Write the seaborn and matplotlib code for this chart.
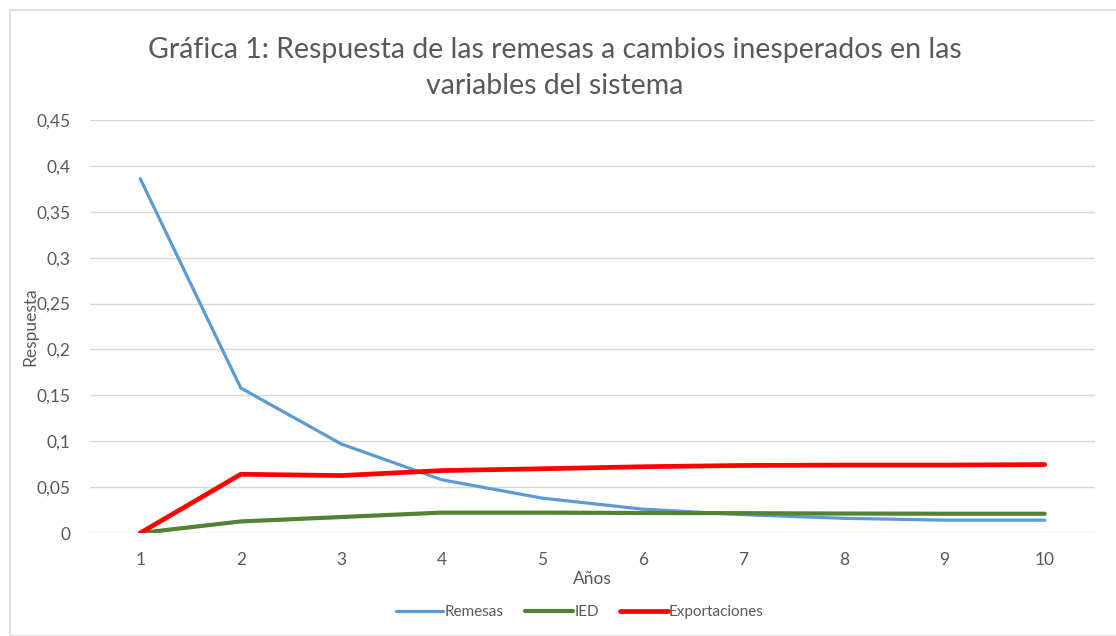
import numpy
import pandas
import seaborn as sns
import matplotlib
matplotlib.use("Agg")
import matplotlib.pyplot as plt
from matplotlib.patches import Rectangle

years = [1, 2, 3, 4, 5, 6, 7, 8, 9, 10]
remesas = [0.386, 0.158, 0.097, 0.058, 0.038, 0.026, 0.020, 0.016, 0.014, 0.014]
ied = [0.0, 0.0126, 0.0174, 0.0222, 0.0222, 0.0218, 0.0216, 0.0212, 0.021, 0.021]
exportaciones = [0.0, 0.064, 0.0626, 0.068, 0.070, 0.0722, 0.0736, 0.074, 0.074, 0.0746]
series_names = ["Remesas", "IED", "Exportaciones"]
y_ticks = [0, 0.05, 0.1, 0.15, 0.2, 0.25, 0.3, 0.35, 0.4, 0.45]

df = pandas.DataFrame({
    "Años": years * 3,
    "Respuesta": remesas + ied + exportaciones,
    "serie": numpy.repeat(series_names, len(years)),
})

sns.set_theme(style="white")
plt.rcParams["font.family"] = ["Lato", "DejaVu Sans"]
gray = "#595959"

fig = plt.figure(figsize=(11.16, 6.36), dpi=100)
ax = fig.add_axes([90 / 1116, 1 - 533 / 636, 1005 / 1116, 413 / 636])

palette = {"Remesas": "#5B9BD5", "IED": "#548235", "Exportaciones": "#FF0000"}
sns.lineplot(data=df, x="Años", y="Respuesta", hue="serie", palette=palette,
             ax=ax, legend=False, zorder=3)
widths = {"Remesas": 2.3, "IED": 3.0, "Exportaciones": 3.4}
for line, name in zip(ax.lines, series_names):
    line.set_linewidth(widths[name])
    line.set_solid_capstyle("round")

ax.set_xlim(0.5, 10.5)
ax.set_ylim(0, 0.45)
ax.set_xticks(years)
ax.set_xticklabels([str(y) for y in years])
ax.set_yticks(y_ticks)
ax.set_yticklabels([("%g" % t).replace(".", ",") for t in y_ticks])
ax.tick_params(axis="both", length=0, labelsize=12.5, colors=gray, pad=14)
ax.yaxis.grid(True, color="#D9D9D9", linewidth=1)
ax.set_axisbelow(True)
for s in ax.spines.values():
    s.set_visible(False)

ax.set_xlabel("Años", fontsize=12.5, color=gray, labelpad=2)
ax.set_ylabel("Respuesta", fontsize=12.5, color=gray)
ax.yaxis.set_label_coords(-52 / 1005, 0.5)

fig.text(555 / 1116, 1 - 68 / 636,
         "Gráfica 1: Respuesta de las remesas a cambios inesperados en las\nvariables del sistema",
         ha="center", va="center", fontsize=20.5, color=gray, linespacing=1.45)

handles = [plt.Line2D([], [], color=palette[n], linewidth=widths[n]) for n in series_names]
fig.legend(handles, series_names, loc="center", bbox_to_anchor=(580 / 1116, 1 - 612 / 636),
           ncol=3, frameon=False, fontsize=11, labelcolor=gray, handlelength=3.1,
           handletextpad=0.1, columnspacing=1.4)

fig.patches.append(Rectangle((10 / 1116, 0.0), 1.2, 1 - 10 / 636, transform=fig.transFigure,
                             fill=False, edgecolor="#D9D9D9", linewidth=1.2))

fig.savefig("out.png", dpi=100, facecolor="white")
